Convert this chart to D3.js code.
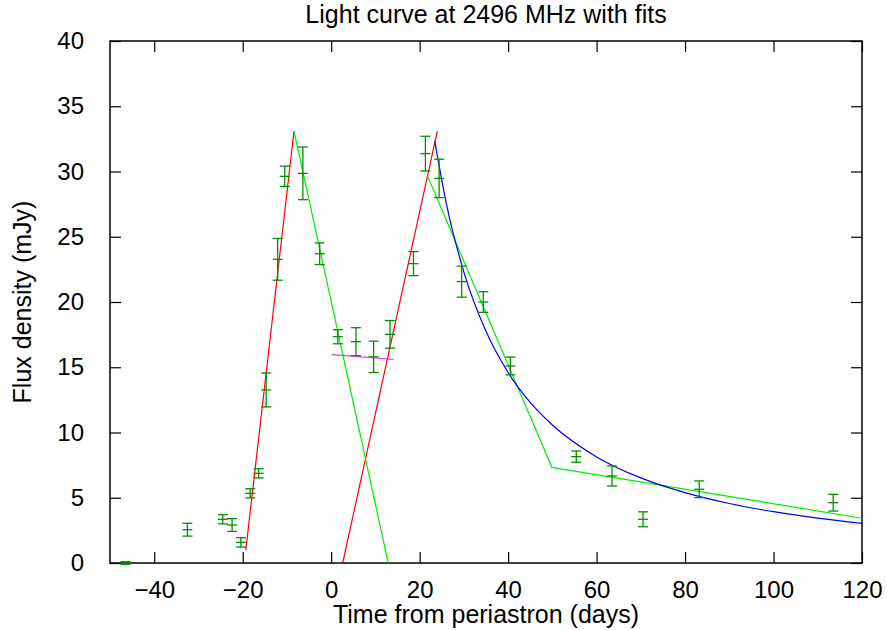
<!DOCTYPE html>
<html>
<head>
<meta charset="utf-8">
<script src="https://cdn.jsdelivr.net/npm/d3@7"></script>
<style>
  body { margin: 0; background: #fff; }
</style>
</head>
<body>
<div id="chart"></div>
<script>
// measured points: time (days), flux (mJy), error
const days = [-46.5, -32.5, -24.5, -22.4, -20.4, -18.3, -16.4, -14.7, -12.1, -10.5, -6.4, -2.6,
  1.5, 5.6, 9.6, 13.3, 18.6, 21.3, 24.4, 29.5, 34.4, 40.5, 55.4, 63.5, 70.5, 83.2, 113.5];
const flux = [0, 2.55, 3.35, 2.91, 1.58, 5.34, 6.87, 13.26, 23.27, 29.63, 29.86, 23.7,
  17.34, 16.96, 15.8, 17.52, 22.94, 31.37, 29.47, 21.56, 20.0, 15.1, 8.15, 6.67, 3.35, 5.65, 4.62];
const fluxErr = [0.1, 0.49, 0.35, 0.49, 0.36, 0.35, 0.35, 1.3, 1.6, 0.78, 2.02, 0.83,
  0.54, 1.07, 1.2, 1.06, 0.92, 1.33, 1.47, 1.19, 0.79, 0.68, 0.43, 0.77, 0.57, 0.64, 0.64];

// fit lines [day, flux]
const riseFit1 = [[-19.3, 1.0], [-8.4, 33.1]];
const riseFit2 = [[2.6, 0], [24.0, 33.1]];
const decayFit1 = [[-8.4, 33.1], [12.9, 0]];
const decayFit2 = [[21.8, 29.63], [49.9, 7.33], [120, 3.43]];
const plateauFit = [[0.07, 15.96], [14.1, 15.6]];
const powerFit = [[23.4, 32.34], [26, 27.6], [30, 22.29], [35, 17.75], [40, 14.6], [45, 12.3],
  [50, 10.57], [60, 8.13], [70, 6.52], [80, 5.39], [90, 4.56], [100, 3.93], [110, 3.44], [120, 3.04]];

const xTicks = [-40, -20, 0, 20, 40, 60, 80, 100, 120];
const yTicks = [0, 5, 10, 15, 20, 25, 30, 35, 40];

const W = 887, H = 630;
const margin = { top: 41, right: 25, bottom: 67, left: 110 };
const width = W - margin.left - margin.right;
const height = H - margin.top - margin.bottom;
const font = '"Liberation Sans", Arial, sans-serif';
const tickLen = 11;

const x = d3.scaleLinear().domain([-50, 120]).range([0, width]);
const y = d3.scaleLinear().domain([0, 40]).range([height, 0]);

const svg = d3.select('#chart')
  .append('svg')
  .attr('width', W)
  .attr('height', H)
  .style('font-family', font);

const g = svg.append('g')
  .attr('transform', `translate(${margin.left},${margin.top})`);

// clip for the fit lines
g.append('clipPath').attr('id', 'clip')
  .append('rect').attr('width', width).attr('height', height);

// axes, ticks inward and mirrored
const bottomAxis = g.append('g')
  .attr('transform', `translate(0,${height})`)
  .call(d3.axisBottom(x).tickValues(xTicks).tickSize(-tickLen).tickPadding(tickLen + 7).tickSizeOuter(0));
const topAxis = g.append('g')
  .call(d3.axisTop(x).tickValues(xTicks).tickSize(-tickLen).tickFormat('').tickSizeOuter(0));
const leftAxis = g.append('g')
  .call(d3.axisLeft(y).tickValues(yTicks).tickSize(-tickLen).tickPadding(tickLen + 15).tickSizeOuter(0));
const rightAxis = g.append('g')
  .attr('transform', `translate(${width},0)`)
  .call(d3.axisRight(y).tickValues(yTicks).tickSize(-tickLen).tickFormat('').tickSizeOuter(0));

[bottomAxis, topAxis, leftAxis, rightAxis].forEach(a => {
  a.selectAll('.domain').remove();
  a.selectAll('line').attr('stroke', '#000').attr('stroke-width', 1.2);
  a.selectAll('text').style('font-size', '24px').style('font-family', font).attr('fill', '#000');
});
bottomAxis.selectAll('text').attr('dy', '0.71em');

// frame
g.append('rect')
  .attr('width', width)
  .attr('height', height)
  .attr('fill', 'none')
  .attr('stroke', '#000')
  .attr('stroke-width', 1.5);

// fit lines
const line = d3.line().x(d => x(d[0])).y(d => y(d[1]));
const fits = [
  { data: riseFit1, color: '#ff0000' },
  { data: riseFit2, color: '#ff0000' },
  { data: decayFit1, color: '#00ee00' },
  { data: decayFit2, color: '#00ee00' },
  { data: plateauFit, color: '#e040e0' },
];
const fitLayer = g.append('g').attr('clip-path', 'url(#clip)');
fits.forEach(f => {
  fitLayer.append('path')
    .datum(f.data)
    .attr('fill', 'none')
    .attr('stroke', f.color)
    .attr('stroke-width', 1.2)
    .attr('d', line);
});
fitLayer.append('path')
  .datum(powerFit)
  .attr('fill', 'none')
  .attr('stroke', '#0000ee')
  .attr('stroke-width', 1.2)
  .attr('d', line.curve(d3.curveMonotoneX));

// error bars
const pts = days.map((d, i) => ({ t: d, f: flux[i], e: fluxErr[i] }));
const cap = 5;
const bars = g.append('g')
  .attr('stroke', '#009000')
  .attr('stroke-width', 1.3);
const bar = bars.selectAll('.bar').data(pts).enter().append('g').attr('class', 'bar');
bar.append('line')
  .attr('x1', d => x(d.t)).attr('x2', d => x(d.t))
  .attr('y1', d => y(d.f - d.e)).attr('y2', d => y(d.f + d.e));
bar.append('line')
  .attr('x1', d => x(d.t) - cap).attr('x2', d => x(d.t) + cap)
  .attr('y1', d => y(d.f + d.e)).attr('y2', d => y(d.f + d.e));
bar.append('line')
  .attr('x1', d => x(d.t) - cap).attr('x2', d => x(d.t) + cap)
  .attr('y1', d => y(d.f - d.e)).attr('y2', d => y(d.f - d.e));
bar.append('line')
  .attr('x1', d => x(d.t) - cap).attr('x2', d => x(d.t) + cap)
  .attr('y1', d => y(d.f)).attr('y2', d => y(d.f));

// title
svg.append('text')
  .attr('x', margin.left + width / 2)
  .attr('y', 23)
  .attr('text-anchor', 'middle')
  .style('font-size', '25px')
  .text('Light curve at 2496 MHz with fits');

// axis labels
svg.append('text')
  .attr('x', margin.left + width / 2)
  .attr('y', 623)
  .attr('text-anchor', 'middle')
  .style('font-size', '25px')
  .text('Time from periastron (days)');

svg.append('text')
  .attr('transform', `translate(31,${margin.top + height / 2}) rotate(-90)`)
  .attr('text-anchor', 'middle')
  .style('font-size', '25px')
  .text('Flux density (mJy)');
</script>
</body>
</html>
